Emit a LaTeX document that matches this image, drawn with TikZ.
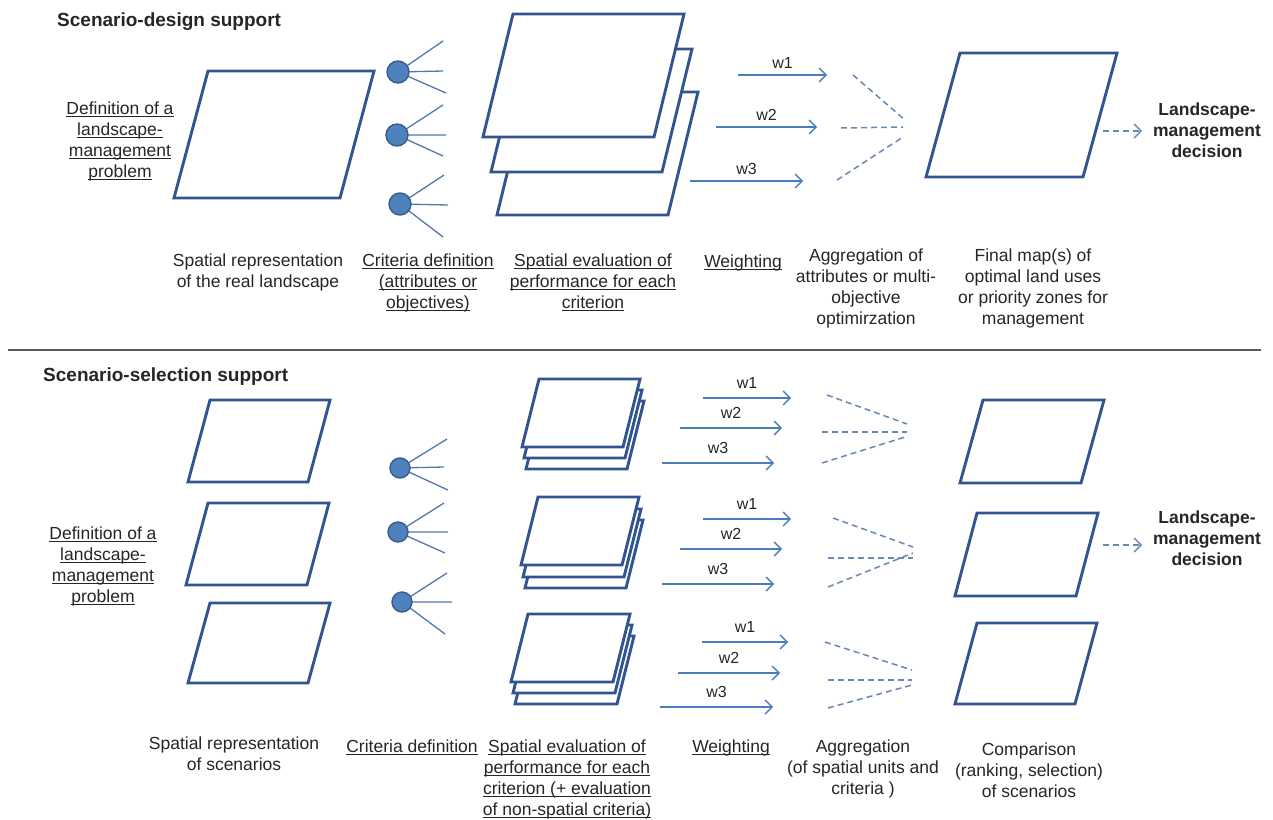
\documentclass[tikz,border=0pt]{standalone}
\usepackage{fontspec}
\setmainfont{Liberation Sans}
\usetikzlibrary{arrows.meta}
\definecolor{pgcol}{RGB}{50,85,145}
\definecolor{circfill}{RGB}{79,129,189}
\definecolor{circdraw}{RGB}{56,93,138}
\definecolor{spokecol}{RGB}{84,120,170}
\definecolor{arrcol}{RGB}{74,126,187}
\definecolor{dashcol}{RGB}{105,135,180}
\definecolor{sepcol}{RGB}{89,89,89}
\definecolor{txtcol}{RGB}{38,38,38}
\newcommand\ul[1]{\setbox0\hbox{#1}\rlap{\rule[-2.2pt]{\wd0}{1.1pt}}\box0}
\newcommand\pgram[6]{\draw[pgbox] (#2,#3) coordinate (#1) -- ++(#4,0) -- ++(#6,-#5) -- ++(-#4,0) -- cycle;}
\tikzset{
  pgbox/.style={draw=pgcol, line width=2.9pt, fill=white, line join=miter},
  crit/.style={circle, fill=circfill, draw=circdraw, line width=1.4pt, minimum size=#1, inner sep=0pt},
  spoke/.style={draw=spokecol, line width=1.3pt},
  warrow/.style={draw=arrcol, line width=1.4pt, -{Straight Barb[length=7pt,width=14pt,line width=1.4pt]}},
  dline/.style={draw=dashcol, line width=1.5pt, dash pattern=on 6pt off 4pt},
  darrow/.style={dline, -{Straight Barb[length=7pt,width=14pt,line width=1.4pt]}},
  wlab/.style={font=\fontsize{16}{18}\selectfont, text=txtcol, above=6pt, inner sep=0pt},
  txt/.style={font=\fontsize{17.5}{21}\selectfont, align=center, anchor=north, inner sep=0pt, text=txtcol},
  btxt/.style={txt, font=\fontsize{17.5}{21}\selectfont\bfseries},
  title/.style={font=\fontsize{19}{22}\selectfont\bfseries, anchor=west, inner sep=0pt, text=txtcol}
}
\begin{document}
\begin{tikzpicture}[x=1pt,y=-1pt]
\useasboundingbox (0,0) rectangle (1273,819);
\fill[white] (0,0) rectangle (1273,819);

% ---------------- top: scenario-design support
\node[title] (t1) at (57,22) {Scenario-design support};
\node[txt] (def1) at (120,102) {\ul{Definition of a}\\\ul{landscape-}\\\ul{management}\\\ul{problem}};
\pgram{p1}{174}{198}{166}{127}{34}

% criteria circles
\foreach \n/\cx/\cy/\ax/\ay/\bx/\by/\ex/\ey in {
  1/398/72/443/41/443/71/446/93,
  2/397/135/443/105/446/135/443/156,
  3/400/204/444/175/448/205/443/237,
  4/400/468/447/439/444/467/448/490,
  5/398/532/444/503/448/532/445/553,
  6/402/602/447/573/452/602/445/634}{
  \coordinate (sa\n) at (\ax,\ay);
  \coordinate (sb\n) at (\bx,\by);
  \coordinate (sc\n) at (\ex,\ey);
  \coordinate (cc\n) at (\cx,\cy);
  \draw[spoke] (cc\n) -- (sa\n) (cc\n) -- (sb\n) (cc\n) -- (sc\n);
}
\foreach \n in {1,2,3}{\node[crit=22pt] (c\n) at (cc\n) {};}
\foreach \n in {4,5,6}{\node[crit=20pt] (c\n) at (cc\n) {};}

% stack of evaluation maps
\pgram{e3}{497}{215}{171}{123}{30}
\pgram{e2}{491}{172}{171}{123}{30}
\pgram{e1}{483}{137}{171}{123}{30}

% weighting arrows (top)
\foreach \n/\xa/\xb/\y/\lab in {t1/738/827/75/w1, t2/716/817/127/w2, t3/690/803/181/w3}{
  \coordinate (ws\n) at (\xa,\y);
  \coordinate (we\n) at (\xb,\y);
  \draw[warrow] (ws\n) -- node[wlab] (wl\n) {\lab} (we\n);
}
% aggregation dashes (top)
\foreach \n/\xa/\ya/\xb/\yb in {t1/853/75/905/120, t2/841/128/903/127, t3/837/180/903/137}{
  \coordinate (ds\n) at (\xa,\ya);
  \coordinate (de\n) at (\xb,\yb);
  \draw[dline] (ds\n) -- (de\n);
}
\pgram{f1}{926}{177}{157}{124}{34}
\coordinate (dat1) at (1103,131);
\coordinate (dae1) at (1142,131);
\draw[darrow] (dat1) -- (dae1);
\node[btxt] (dec1) at (1207,103) {Landscape-\\management\\decision};

\node[txt] (rep1) at (258,254) {Spatial representation\\of the real landscape};
\node[txt] (crit1) at (428,254) {\ul{Criteria definition}\\\ul{(attributes or}\\\ul{objectives)}};
\node[txt] (eval1) at (593,254) {\ul{Spatial evaluation of}\\\ul{performance for each}\\\ul{criterion}};
\node[txt] (wt1) at (743,255) {\ul{Weighting}};
\node[txt] (agg1) at (866,249) {Aggregation of\\attributes or multi-\\objective\\optimirzation};
\node[txt] (fin1) at (1033,249) {Final map(s) of\\optimal land uses\\or priority zones for\\management};

% separator
\coordinate (sepl) at (8,350);
\coordinate (sepr) at (1261,350);
\draw[sepcol, line width=2.4pt] (sepl) -- (sepr);

% ---------------- bottom: scenario-selection support
\node[title] (t2) at (43,377) {Scenario-selection support};
\node[txt] (def2) at (103,527) {\ul{Definition of a}\\\ul{landscape-}\\\ul{management}\\\ul{problem}};
\pgram{s1}{188}{482}{120}{82}{22}
\pgram{s2}{186}{585}{121}{82}{22}
\pgram{s3}{188}{683}{120}{80}{22}

% small stacks
\pgram{g1c}{526}{469}{101}{68}{17}
\pgram{g1b}{524}{458}{101}{68}{17}
\pgram{g1a}{522}{447}{101}{68}{17}
\pgram{g2c}{525}{588}{101}{68}{17}
\pgram{g2b}{523}{577}{101}{68}{17}
\pgram{g2a}{521}{565}{101}{68}{17}
\pgram{g3c}{515}{704}{102}{68}{17}
\pgram{g3b}{513}{693}{102}{68}{17}
\pgram{g3a}{511}{682}{102}{68}{17}

% weighting arrows (bottom)
\foreach \n/\xa/\xb/\y/\lab in {
  a1/703/791/398/w1, a2/680/782/428/w2, a3/662/774/463/w3,
  b1/703/791/519/w1, b2/680/782/549/w2, b3/662/774/584/w3,
  c1/702/788/642/w1, c2/678/780/673/w2, c3/660/773/707/w3}{
  \coordinate (ws\n) at (\xa,\y);
  \coordinate (we\n) at (\xb,\y);
  \draw[warrow] (ws\n) -- node[wlab, above=3pt] (wl\n) {\lab} (we\n);
}
% aggregation dashes (bottom)
\foreach \n/\xa/\ya/\xb/\yb in {
  a1/827/395/907/424, a2/822/432/907/432, a3/822/463/905/437,
  b1/833/518/913/547, b2/828/558/913/558, b3/828/587/913/553,
  c1/825/642/912/670, c2/828/680/912/680, c3/828/708/912/685}{
  \coordinate (ds\n) at (\xa,\ya);
  \coordinate (de\n) at (\xb,\yb);
  \draw[dline] (ds\n) -- (de\n);
}
\pgram{r1}{960}{483}{121}{83}{23}
\pgram{r2}{955}{596}{121}{83}{22}
\pgram{r3}{955}{704}{120}{81}{22}
\coordinate (dat2) at (1103,545);
\coordinate (dae2) at (1142,545);
\draw[darrow] (dat2) -- (dae2);
\node[btxt] (dec2) at (1207,511) {Landscape-\\management\\decision};

\node[txt] (rep2) at (234,737) {Spatial representation\\of scenarios};
\node[txt] (crit2) at (412,740) {\ul{Criteria definition}};
\node[txt] (eval2) at (567,740) {\ul{Spatial evaluation of}\\\ul{performance for each}\\\ul{criterion (+ evaluation}\\\ul{of non-spatial criteria)}};
\node[txt] (wt2) at (731,740) {\ul{Weighting}};
\node[txt] (agg2) at (863,740) {Aggregation\\(of spatial units and\\criteria )};
\node[txt] (comp2) at (1029,743) {Comparison\\(ranking, selection)\\of scenarios};
\end{tikzpicture}
\end{document}
